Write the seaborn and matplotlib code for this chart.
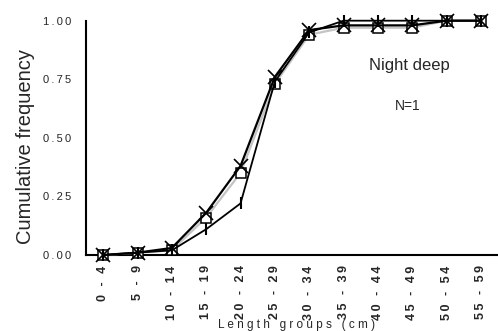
import matplotlib
matplotlib.use("Agg")
import matplotlib.pyplot as plt
import numpy as np
import pandas as pd
import seaborn as sns

# Length classes (cm)
groups = ["0 - 4", "5 - 9", "10 - 14", "15 - 19", "20 - 24", "25 - 29",
          "30 - 34", "35 - 39", "40 - 44", "45 - 49", "50 - 54", "55 - 59"]
y_ticks = [0.0, 0.25, 0.5, 0.75, 1.0]

# Cumulative frequency of three samples
cum_cross = [0.00, 0.01, 0.03, 0.18, 0.38, 0.76, 0.96, 0.98, 0.98, 0.98, 1.00, 1.00]
cum_square = [0.00, 0.01, 0.02, 0.16, 0.35, 0.73, 0.94, 0.97, 0.97, 0.97, 1.00, 1.00]
cum_tick = [0.00, 0.01, 0.02, 0.11, 0.22, 0.74, 0.95, 1.00, 1.00, 1.00, 1.00, 1.00]

THIN = "\u2009"


def tracked(s, gap=THIN):
    """Widen the tracking of a label by putting a gap between characters."""
    return gap.join(s)


sns.set_style("white")
plt.rcParams["font.family"] = ["Liberation Sans", "DejaVu Sans"]

fig = plt.figure(figsize=(4.98, 3.31), dpi=100)
ax = fig.add_axes([0.1727, 0.2296, 0.8273, 0.7079])

pos = np.arange(len(groups))
df = pd.DataFrame({"pos": pos, "cross": cum_cross, "square": cum_square, "tick": cum_tick})

sns.lineplot(data=df, x="pos", y="square", ax=ax, color="#c4c4c4", lw=1.6,
             marker="s", markersize=7.5, markerfacecolor="white",
             markeredgecolor="black", markeredgewidth=1.1, clip_on=False, zorder=3)
sns.lineplot(data=df, x="pos", y="tick", ax=ax, color="black", lw=1.3,
             marker="|", markersize=8, markeredgewidth=1.5,
             markeredgecolor="black", clip_on=False, zorder=4)
sns.lineplot(data=df, x="pos", y="cross", ax=ax, color="black", lw=1.6,
             marker="x", markersize=10.5, markeredgewidth=1.2,
             markeredgecolor="black", clip_on=False, zorder=5)

ax.set_xlim(-0.5, 11.3)
ax.set_ylim(0, 1.0)

ax.set_xticks(pos)
ax.set_xticklabels([tracked(g) for g in groups], rotation=90, fontsize=9,
                   fontweight="bold")
ax.set_xticks(np.arange(-0.5, 12, 1.0), minor=True)
ax.tick_params(axis="x", which="major", length=0, pad=7.5)
ax.tick_params(axis="x", which="minor", length=4, width=1.2, direction="out",
               color="black")

ax.set_yticks(y_ticks)
ax.set_yticklabels([tracked(f"{v:.2f}") for v in y_ticks], fontsize=8)
ax.tick_params(axis="y", length=4, width=1.2, direction="out", color="black", pad=6.5)

for side in ["top", "right"]:
    ax.spines[side].set_visible(False)
for side in ["left", "bottom"]:
    ax.spines[side].set_color("black")
    ax.spines[side].set_linewidth(1.5)

ax.set_xlabel(tracked("Length groups (cm)", " "), fontsize=8.5)
ax.xaxis.set_label_coords(0.512, -0.272)
ax.set_ylabel("Cumulative frequency", fontsize=14.5)
ax.yaxis.set_label_coords(-0.125, 0.463)

ax.text(8.93, 0.807, "Night deep", fontsize=12, ha="center", va="center")
ax.text(8.87, 0.636, "N=1", fontsize=10, ha="center", va="center")

fig.savefig("out.png", dpi=100)
